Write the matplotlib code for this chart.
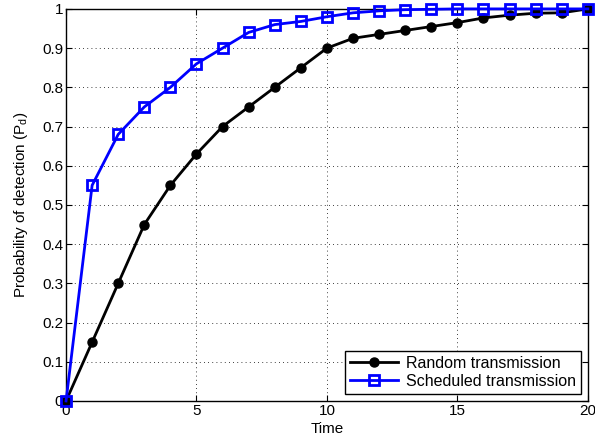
import matplotlib
matplotlib.use("Agg")
import matplotlib.pyplot as plt

plt.rcParams['font.family'] = ['Liberation Sans', 'DejaVu Sans']
plt.rcParams['mathtext.fontset'] = 'custom'
plt.rcParams['mathtext.rm'] = 'Liberation Sans'

time = list(range(0, 21))
random_tx = [0, 0.15, 0.30, 0.45, 0.55, 0.63, 0.70, 0.75, 0.80, 0.85, 0.90,
             0.925, 0.935, 0.945, 0.955, 0.965, 0.977, 0.984, 0.989, 0.99, 1.0]
scheduled_tx = [0, 0.55, 0.68, 0.75, 0.80, 0.86, 0.90, 0.94, 0.96, 0.968, 0.98,
                0.99, 0.995, 0.998, 0.999, 1.0, 1.0, 1.0, 1.0, 1.0, 1.0]

fig = plt.figure(figsize=(5.95, 4.45), dpi=100)
ax = fig.add_axes([0.111, 0.099, 0.877, 0.881])

ax.plot(time, random_tx, 'k-o', lw=2, ms=6.5, label='Random transmission', clip_on=False, zorder=3)
ax.plot(time, scheduled_tx, '-s', color='#0000ff', lw=2, ms=6.5, mfc='none', mew=2,
        label='Scheduled transmission', clip_on=False, zorder=4)

ax.set_xlim(0, 20)
ax.set_ylim(0, 1)
ax.set_xticks([0, 5, 10, 15, 20])
ax.set_yticks([i / 10 for i in range(11)])
ax.set_yticklabels(['0', '0.1', '0.2', '0.3', '0.4', '0.5', '0.6', '0.7', '0.8', '0.9', '1'])
ax.tick_params(direction='in', labelsize=11, length=4, top=True, right=True, pad=2)
ax.grid(True, color='black', linestyle=(0, (1, 4)), linewidth=0.6)
for s in ax.spines.values():
    s.set_linewidth(1)

ax.set_xlabel('Time', fontsize=11, labelpad=3)
ax.set_ylabel('Probability of detection (P$_\\mathrm{d}$)', fontsize=11, labelpad=9)

leg = ax.legend(loc='lower right', fontsize=11.5, fancybox=False, framealpha=1,
                edgecolor='black', borderpad=0.3, handlelength=3, labelspacing=0.2,
                borderaxespad=0.45, handletextpad=0.5)
leg.get_frame().set_linewidth(1)

fig.savefig('out.png', dpi=100)
